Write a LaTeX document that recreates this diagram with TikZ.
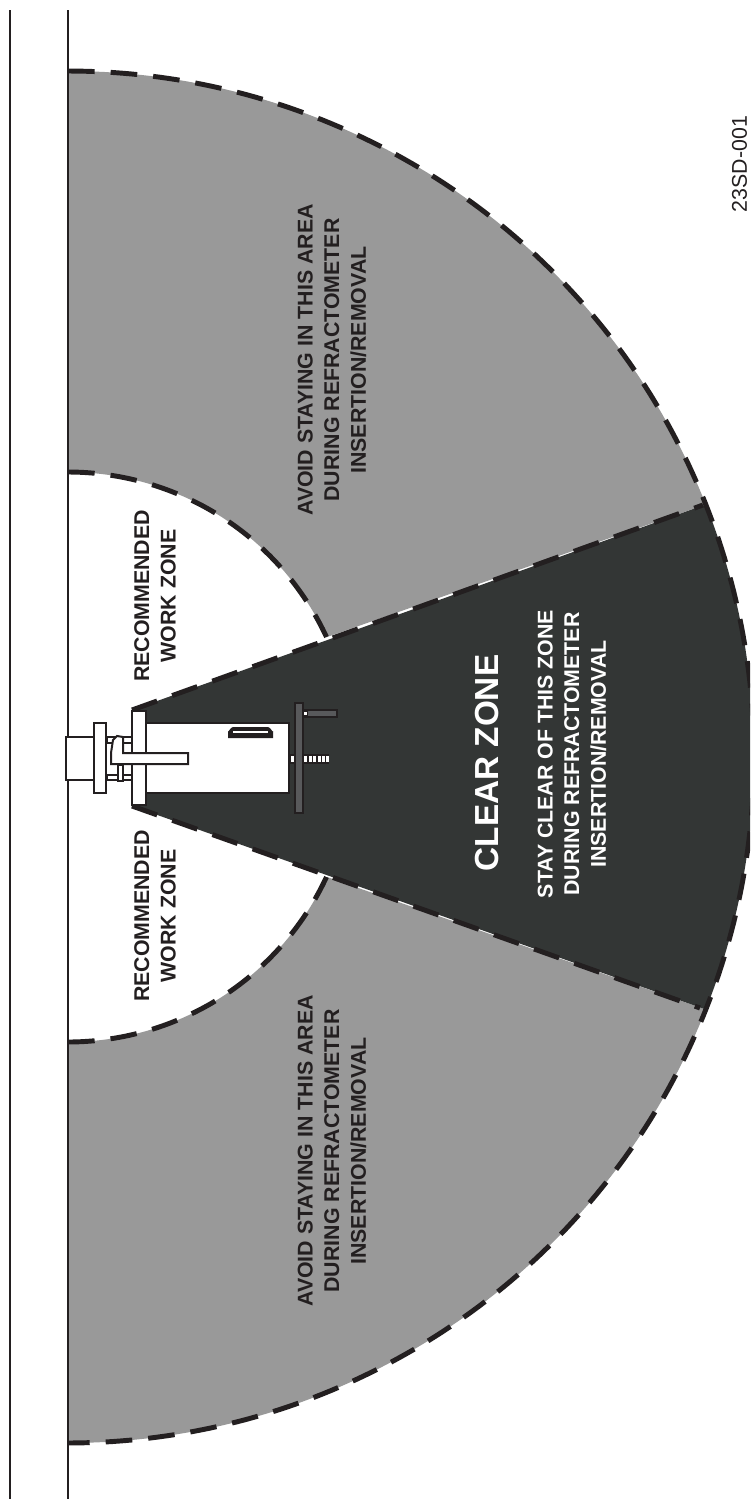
\documentclass[tikz,border=0pt]{standalone}
\usepackage{fontspec}
\setmainfont{Liberation Sans}
\definecolor{ink}{HTML}{231F20}
\definecolor{zonegray}{HTML}{999999}
\definecolor{zonedark}{HTML}{333635}
\definecolor{partgray}{HTML}{58595B}
\tikzset{
  zoneedge/.style={draw=ink,line width=3.7pt,dash pattern=on 20pt off 12pt},
  wall/.style={draw=ink,line width=2pt},
  part/.style={draw=ink,line width=1.5pt,fill=white},
  graypart/.style={draw=ink,line width=1.8pt,fill=partgray},
  zonetext/.style={rotate=90,align=center,font=\bfseries\fontsize{16}{20}\selectfont,text=ink,inner sep=0pt},
  whitetext/.style={zonetext,text=white}
}
\begin{document}
\begin{tikzpicture}[x=0.75pt,y=-0.75pt]
\useasboundingbox (0,0) rectangle (750,1499);
\fill[white] (0,0) rectangle (750,1499);
\clip (0,0) rectangle (750,1499);
% gray zones
\fill[zonegray] plot[domain=-90:-21.6,samples=90] ({68+686*cos(\x)},{757+686*sin(\x)})
  -- (327,637) -- plot[domain=-24.9:-90,samples=50] ({68+285*cos(\x)},{757+285*sin(\x)}) -- cycle;
\fill[zonegray] plot[domain=90:21.6,samples=90] ({68+686*cos(\x)},{757+686*sin(\x)})
  -- (327,877) -- plot[domain=24.9:90,samples=50] ({68+285*cos(\x)},{757+285*sin(\x)}) -- cycle;
% clear zone
\fill[zonedark] (132,710) -- plot[domain=-21.6:21.6,samples=60] ({68+686*cos(\x)},{757+686*sin(\x)}) -- (132,806) -- cycle;
% dashed edges
\draw[zoneedge] plot[domain=-90:90,samples=240] ({68+686*cos(\x)},{757+686*sin(\x)});
\draw[zoneedge] plot[domain=-90:-24.9,samples=70] ({68+285*cos(\x)},{757+285*sin(\x)});
\draw[zoneedge] plot[domain=90:24.9,samples=70] ({68+285*cos(\x)},{757+285*sin(\x)});
\draw[zoneedge] (132,710) -- (703,505);
\draw[zoneedge] (132,806) -- (700,1008);
% walls
\draw[wall] (10,10) -- (10,1499);
\draw[wall] (68,10) -- (68,737);
\draw[wall] (68,780) -- (68,1499);
% instrument
\draw[part] (66,737) rectangle (96,780);
\draw[part,line width=1pt] (107,737) rectangle (134,743);
\draw[part,line width=1pt] (107,775) rectangle (134,780);
\draw[part,line width=1pt] (118,765) rectangle (123,781);
\draw[part] (94,723) rectangle (106,793);
\draw[part] (132,711) rectangle (146,805);
\draw[part] (146,723) rectangle (289,793);
\draw[part] (111,753) -- (111,764) -- (188,764) -- (188,753) -- (123,753) -- (123,737) -- (117,736) -- (113,740) -- cycle;
\fill[ink] (228,738) -- (228,731) to[out=-90,in=180] (233,727) -- (268,727) to[out=0,in=-90] (273,731) -- (273,738) -- cycle;
\fill[white] (233,733) rectangle (268,731);
% end plate and screws
\fill[ink] (290,754) rectangle (329,764);
\foreach \sx in {290.5,304,308.5,313,317.5,322,325.5}{\fill[white] (\sx,755.5) rectangle +(3,6.5);}
\draw[graypart] (295,703) rectangle (303,813);
\fill[ink] (303,709) rectangle (338,718);
\fill[partgray] (308,711) rectangle (336,716);
\fill[white] (304,711.5) rectangle (307,715);
% labels
\node[zonetext] (avoidtop) at (332,360) {AVOID STAYING IN THIS AREA\\DURING REFRACTOMETER\\INSERTION/REMOVAL};
\node[zonetext] (avoidbot) at (332,1151) {AVOID STAYING IN THIS AREA\\DURING REFRACTOMETER\\INSERTION/REMOVAL};
\node[zonetext] (worktop) at (155,596) {RECOMMENDED\\WORK ZONE};
\node[zonetext] (workbot) at (155,916) {RECOMMENDED\\WORK ZONE};
\node[whitetext,font=\bfseries\fontsize{25}{30}\selectfont] (clear) at (487.5,763) {CLEAR ZONE};
\node[whitetext] (stay) at (572,754) {STAY CLEAR OF THIS ZONE\\DURING REFRACTOMETER\\INSERTION/REMOVAL};
\node[rotate=90,inner sep=0pt,text=ink,font=\fontsize{16}{19}\selectfont] (code) at (739.5,164) {23SD-001};
\end{tikzpicture}
\end{document}
